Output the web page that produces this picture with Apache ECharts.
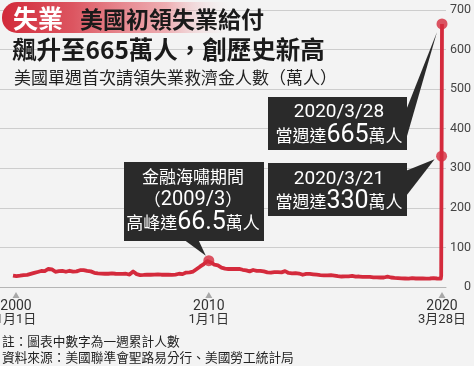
<!DOCTYPE html>
<html><head><meta charset="utf-8">
<script src="https://cdn.jsdelivr.net/npm/echarts@6/dist/echarts.min.js"></script>
<style>html,body{margin:0;padding:0;background:#f3f3f3}#c{width:474px;height:366px}</style>
</head><body><div id="c"></div><script>
// 美國單週首次請領失業救濟金人數（萬人） — monthly readings 2000–2020/02
const m2000 = [29.0, 28.5, 27.5, 27.5, 28.5, 29.5, 30.0, 30.5, 30.5, 31.0, 33.0, 34.0];
const m2001 = [35.5, 37.0, 38.0, 39.5, 40.5, 40.0, 40.0, 40.5, 45.5, 48.5, 44.5, 41.0];
const m2002 = [38.5, 38.0, 40.0, 42.0, 40.5, 39.5, 38.5, 39.0, 41.0, 40.5, 39.0, 38.5];
const m2003 = [39.5, 41.0, 42.5, 43.0, 42.5, 42.5, 40.5, 39.5, 39.5, 38.0, 36.0, 35.5];
const m2004 = [34.5, 35.5, 34.0, 33.5, 33.5, 34.0, 33.5, 33.5, 34.5, 33.5, 33.5, 33.5];
const m2005 = [33.0, 31.5, 33.0, 33.0, 33.5, 33.0, 31.5, 31.5, 39.0, 35.5, 32.5, 32.0];
const m2006 = [30.0, 30.5, 30.5, 31.5, 31.5, 31.0, 31.0, 31.5, 31.5, 31.0, 32.0, 31.5];
const m2007 = [31.0, 33.0, 31.5, 33.0, 31.0, 31.5, 30.5, 31.5, 31.5, 32.5, 33.5, 34.0];
const m2008 = [32.5, 35.0, 36.5, 36.5, 37.0, 38.5, 39.0, 44.0, 45.5, 48.0, 52.0, 56.0];
const m2009 = [58.0, 63.0, 65.5, 63.5, 62.0, 60.5, 56.5, 56.5, 54.5, 52.5, 49.0, 47.5];
const m2010 = [46.5, 47.0, 45.5, 45.5, 46.0, 46.5, 45.5, 48.0, 46.0, 45.0, 43.5, 42.0];
const m2011 = [42.0, 40.0, 39.5, 42.0, 43.0, 42.0, 41.0, 40.5, 41.0, 40.0, 39.5, 37.5];
const m2012 = [37.0, 36.0, 36.5, 38.0, 37.5, 38.0, 37.5, 37.0, 37.0, 37.0, 40.0, 36.5];
const m2013 = [35.5, 35.0, 34.5, 34.5, 35.0, 34.5, 34.0, 33.0, 31.0, 35.0, 33.0, 34.0];
const m2014 = [33.0, 34.0, 32.0, 31.0, 31.0, 31.0, 30.0, 30.0, 29.5, 28.5, 29.5, 29.0];
const m2015 = [30.0, 29.5, 29.0, 28.0, 27.5, 27.5, 26.5, 27.5, 27.0, 26.5, 27.0, 27.0];
const m2016 = [28.0, 26.5, 26.0, 25.5, 26.5, 26.5, 25.5, 26.5, 25.5, 25.5, 25.5, 26.5];
const m2017 = [24.5, 24.0, 24.5, 24.0, 24.0, 24.0, 24.0, 24.0, 26.0, 23.0, 24.0, 24.0];
const m2018 = [23.0, 22.5, 22.5, 22.0, 22.0, 22.0, 21.5, 21.0, 21.0, 21.5, 22.5, 22.0];
const m2019 = [21.5, 22.5, 21.5, 21.0, 21.5, 22.0, 21.0, 21.5, 21.5, 21.5, 22.5, 22.0];
const m2020 = [21.5, 21.0];
// weekly readings, March 2020
const weekDates = ['2020-03-07', '2020-03-14', '2020-03-21', '2020-03-28'];
const weekValues = [21.1, 28.2, 330.7, 664.8];
// highlighted points
const peakDates = ['2009-03-28', '2020-03-21', '2020-03-28'];
const peakValues = [66.5, 330.7, 664.8];
// axis ticks
const tickDates = ['2000-01-01', '2009-03-28', '2020-03-28'];
const tickYears = ['2000', '2010', '2020'];
const tickDays = ['1月1日', '1月1日', '3月28日'];

const RED = '#d42a3c';
const NUM = '"Liberation Sans Narrow", Roboto, sans-serif';
const CJK = '"Noto Sans CJK TC", "Noto Sans CJK SC", sans-serif';
const MIX = 'Roboto, "Noto Sans CJK TC", sans-serif';

const yearly = [m2000,m2001,m2002,m2003,m2004,m2005,m2006,m2007,m2008,m2009,m2010,m2011,m2012,m2013,m2014,m2015,m2016,m2017,m2018,m2019,m2020];
const lineData = [];
yearly.forEach((arr, i) => arr.forEach((v, m) => {
  lineData.push([(2000 + i) + '-' + String(m + 1).padStart(2, '0') + '-01', v]);
}));
weekDates.forEach((d, i) => lineData.push([d, weekValues[i]]));
const peakData = peakDates.map((d, i) => [d, peakValues[i]]);

const chart = echarts.init(document.getElementById('c'));
chart.setOption({
  backgroundColor: '#f3f3f3',
  animation: false,
  grid: { left: 0, right: 27, top: 10, bottom: 79 },
  xAxis: {
    type: 'time',
    min: '1999-05-22',
    max: '2020-06-05',
    splitLine: { show: false },
    axisLine: { lineStyle: { color: '#b5b5b5', width: 1 } },
    axisTick: { show: false },
    axisLabel: { show: false }
  },
  yAxis: {
    type: 'value',
    position: 'right',
    min: 0, max: 700, interval: 100,
    axisLine: { show: false },
    axisTick: { show: false },
    splitLine: { lineStyle: { color: '#cdcdcd', width: 1 } },
    axisLabel: {
      align: 'right', margin: 25,
      color: '#444', fontSize: 12.5, fontFamily: 'Roboto, sans-serif'
    }
  },
  series: [
    {
      type: 'line', data: lineData, symbol: 'none',
      lineStyle: { color: RED, width: 3.8, join: 'round' },
      z: 3
    },
    {
      type: 'scatter', data: peakData, symbol: 'circle', symbolSize: 11,
      itemStyle: { color: RED }, z: 4
    }
  ]
});

function px(d, v) { return chart.convertToPixel({ gridIndex: 0 }, [d, v]); }
const pA = px(peakDates[2], peakValues[2]);
const pB = px(peakDates[1], peakValues[1]);
const pC = px(peakDates[0], peakValues[0]);
const axisY = px(tickDates[0], 0)[1];

const BOX = '#2a2a2a';
const g = [];
// title pill
g.push({ type: 'rect', shape: { x: 2, y: 2, width: 235, height: 31, r: [15, 0, 0, 15] }, z: 10,
  style: { fill: new echarts.graphic.LinearGradient(0, 0, 1, 0, [
    { offset: 0, color: '#d22a3a' }, { offset: 0.3, color: '#dc5560' },
    { offset: 0.7, color: 'rgba(236,150,156,0.75)' }, { offset: 1, color: 'rgba(243,243,243,0)' }]) } });
g.push({ type: 'text', z: 11, style: { text: '失業', x: 13, y: 18, fill: '#fff', font: 'bold 25px ' + CJK, textVerticalAlign: 'middle' } });
g.push({ type: 'text', z: 11, style: { text: '美國初領失業給付', x: 80, y: 19, fill: '#1a1a1a', font: 'bold 23px ' + CJK, textVerticalAlign: 'middle' } });
g.push({ type: 'text', z: 11, style: { text: '飆升至665萬人，創歷史新高', x: 12, y: 50, fill: '#1a1a1a', font: 'bold 24.5px ' + CJK, textVerticalAlign: 'middle' } });
g.push({ type: 'text', z: 11, style: { text: '美國單週首次請領失業救濟金人數（萬人）', x: 14, y: 78, fill: '#222', font: '17px ' + CJK, textVerticalAlign: 'middle' } });

// tick triangles + labels
tickDates.forEach((d, i) => {
  const x = px(d, 0)[0] + (i === 0 ? 3 : 0);
  g.push({ type: 'polygon', z: 5, shape: { points: [[x, axisY + 5], [x - 3.5, axisY + 11], [x + 3.5, axisY + 11]] }, style: { fill: '#a8a8a8' } });
  g.push({ type: 'text', z: 5, style: { text: tickYears[i], x: x, y: axisY + 19, fill: '#333', font: '14px ' + NUM, textAlign: 'center', textVerticalAlign: 'middle' } });
  g.push({ type: 'text', z: 5, style: { text: tickDays[i], x: x, y: axisY + 33, fill: '#333', font: '13px ' + MIX, textAlign: 'center', textVerticalAlign: 'middle' } });
});

// annotation boxes
function rich(pre, num, post, numSize) {
  return { text: '{a|' + pre + '}{b|' + num + '}{a|' + post + '}',
    rich: { a: { fontFamily: CJK, fontSize: 17, fill: '#fff' },
            b: { fontFamily: NUM, fontSize: numSize || 25, fill: '#fff' } } };
}
// box A (665)
g.push({ type: 'polygon', z: 6, shape: { points: [[403, 118], [403, 150], [pA[0] - 5, pA[1] + 8]] }, style: { fill: BOX } });
g.push({ type: 'rect', z: 6, shape: { x: 268, y: 97, width: 139, height: 53 }, style: { fill: BOX } });
g.push({ type: 'text', z: 7, style: { text: '2020/3/28', x: 339, y: 112, fill: '#fff', font: '19px ' + NUM, textAlign: 'center', textVerticalAlign: 'middle' } });
g.push({ type: 'text', z: 7, style: Object.assign(rich('當週達', '665', '萬人'), { x: 339, y: 136, textAlign: 'center', textVerticalAlign: 'middle' }) });
// box B (330)
g.push({ type: 'polygon', z: 6, shape: { points: [[403, 172], [403, 200], [pB[0] - 7, pB[1] + 3]] }, style: { fill: BOX } });
g.push({ type: 'rect', z: 6, shape: { x: 268, y: 163, width: 139, height: 53 }, style: { fill: BOX } });
g.push({ type: 'text', z: 7, style: { text: '2020/3/21', x: 339, y: 179, fill: '#fff', font: '19px ' + NUM, textAlign: 'center', textVerticalAlign: 'middle' } });
g.push({ type: 'text', z: 7, style: Object.assign(rich('當週達', '330', '萬人'), { x: 339, y: 202, textAlign: 'center', textVerticalAlign: 'middle' }) });
// box C (crisis)
g.push({ type: 'polygon', z: 6, shape: { points: [[183, 239], [198, 239], [pC[0] - 3, pC[1] - 5]] }, style: { fill: BOX } });
g.push({ type: 'rect', z: 6, shape: { x: 124, y: 162, width: 140, height: 79 }, style: { fill: BOX } });
g.push({ type: 'text', z: 7, style: { text: '金融海嘯期間', x: 193, y: 177, fill: '#fff', font: '17px ' + CJK, textAlign: 'center', textVerticalAlign: 'middle' } });
g.push({ type: 'text', z: 7, style: Object.assign(rich('（', '2009/3', '）', 20), { x: 193, y: 200, textAlign: 'center', textVerticalAlign: 'middle' }) });
g.push({ type: 'text', z: 7, style: Object.assign(rich('高峰達', '66.5', '萬人'), { x: 193, y: 223, textAlign: 'center', textVerticalAlign: 'middle' }) });

// footer
g.push({ type: 'text', z: 7, style: { text: '註：圖表中數字為一週累計人數', x: 2, y: 341, fill: '#222', font: '12.7px ' + CJK, textVerticalAlign: 'middle' } });
g.push({ type: 'text', z: 7, style: { text: '資料來源：美國聯準會聖路易分行、美國勞工統計局', x: 2, y: 357, fill: '#222', font: '12.7px ' + CJK, textVerticalAlign: 'middle' } });

chart.setOption({ graphic: g });
</script></body></html>
